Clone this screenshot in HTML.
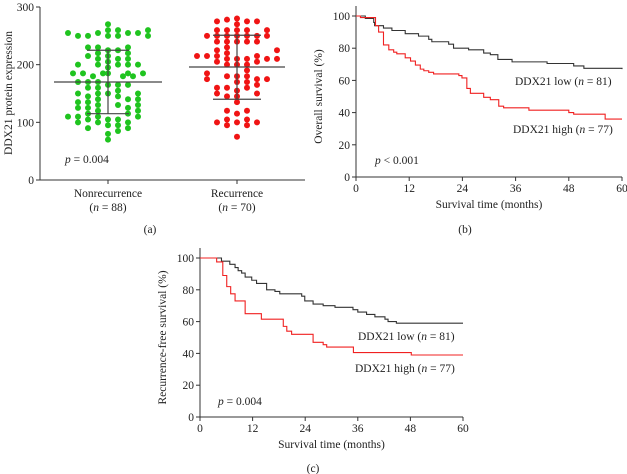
<!DOCTYPE html>
<html><head><meta charset="utf-8"><style>
body{margin:0;background:#fff}
svg{display:block;font-family:"Liberation Serif",serif;font-size:11.5px;fill:#222}
</style></head><body>
<svg id="fig" width="627" height="474" viewBox="0 0 627 474"></svg>
<script>
// Panel a data: [column offset, value]
const greenPts=[[-4,255],[-4,110],[-3.5,185],[-3,250],[-3,200],[-3,170],[-3,150],[-3,135],[-3,125],[-3,110],[-3,100],[-2.5,185],
[-2,250],[-2,230],[-2,215],[-2,170],[-2,160],[-2,145],[-2,135],[-2,125],[-2,115],[-2,105],[-2,90],[-1.5,180],
[-1,255],[-1,230],[-1,220],[-1,210],[-1,200],[-0.5,185],[-1,170],[-1,160],[-1,150],[-1,140],[-1,130],[-1,120],[-1,110],[-1,100],
[0,270],[0,260],[0,250],[0,225],[0,215],[0,205],[0,195],[0,185],[0,165],[0,150],[0,105],[0,95],[0,80],[0,70],[1.5,180],
[1,260],[1,250],[1,225],[1,210],[1,200],[1,165],[1,155],[1,145],[1,130],[1,105],[1,95],[1,85],[2.5,180],
[2,255],[2,230],[2,220],[2,210],[2,200],[2,185],[2,165],[2,140],[2,125],[2,115],[2,100],[2,90],[3.5,185],
[3,255],[3,200],[3,150],[3,140],[3,130],[3,120],[3,110],[4,260],[4,250]];
const redPts=[[-4,215],[-3,250],[-3,215],[-3,185],[-3,175],
[-2,275],[-2,260],[-2,250],[-2,240],[-2,225],[-2,215],[-2,205],[-2,160],[-2,150],[-2,100],
[-1,278],[-1,260],[-1,250],[-1,240],[-1,230],[-1,220],[-1,210],[-1,200],[-1,180],[-1,160],[-1,145],[-1,120],[-1,105],[-1,95],
[0,280],[0,270],[0,260],[0,250],[0,240],[0,210],[0,200],[0,180],[0,170],[0,155],[0,145],[0,135],[0,115],[0,100],[0,75],
[1,275],[1,260],[1,250],[1,240],[1,210],[1,200],[1,190],[1,180],[1,170],[1,160],[1,120],[1,105],[1,95],
[2,275],[2,250],[2,240],[2,215],[2,205],[2,175],[2,165],[2,150],[2,100],[3,260],[3,250],[3,210],[3,175],[4,225],[4,210]];
const groupStats=[{mean:170,hi:225,lo:115},{mean:196,hi:251,lo:140}];
const aTicks=[0,100,200,300];
// Panel b data
const bLowT=[0,2.1,4,4.2,6.2,8.1,11.1,14.1,16.4,17.1,20.9,22,25.4,28.8,30.3,32,35.2,43.1,49.1,51.4,60];
const bLowS=[100,98.5,96,94,92.5,91,89,87.5,85.5,84,82.5,80,79,77,76,73,71.5,70.5,69,67.5,67];
const bHighT=[0,1,4.4,5.1,6.2,7.4,8.5,9.2,11.1,12.3,13.4,14.5,15.3,16.4,17.5,23.2,23.9,25,25.8,28.8,30.3,32.2,33.3,39,48,49.1,56.2,60];
const bHighS=[100,99,94,90,82,79,77.5,76.5,74,72,69.5,67,66,65,64,63,61.5,55,52,49.5,48,44,43,41.5,40,39,36,36];
// Panel c data
const cLowT=[0,4.9,6.8,8,8.7,9.5,10.3,11.8,12.9,15.2,17.1,18.2,23.2,23.9,25.8,28.1,30.8,34.9,36,38,39.9,42.2,42.9,44.8,60];
const cLowS=[100,98,96,94,92,90.5,88,86,84,80,79,77.5,76,73,71,70,69,67.5,66,64.5,63,61.5,60,59,59];
const cHighT=[0,3.8,5.2,6.1,7,8,10.3,14,19,19.8,20.9,25.8,28.1,28.9,35,48.2,60];
const cHighS=[100,97.5,89,82,77.5,73,65,61.5,57,54,52,47,45.5,44,40.5,39,39];
const kmTicksX=[0,12,24,36,48,60];
const kmTicksY=[0,20,40,60,80,100];

const NS='http://www.w3.org/2000/svg';
const svg=document.getElementById('fig');
function el(tag,attrs,parent,text){const e=document.createElementNS(NS,tag);for(const k in attrs)e.setAttribute(k,attrs[k]);if(text!==undefined)e.textContent=text;(parent||svg).appendChild(e);return e;}

// ---------- Panel a ----------
const ga=el('g',{});


const ax0=40,ax1=305,ay0=180,ay1=7;
const ya=v=>ay0+(ay1-ay0)*v/300;
const centers=[108,237];
el('line',{x1:ax0,y1:ay1,x2:ax0,y2:ay0,stroke:'#333','stroke-width':1},ga);
el('line',{x1:ax0,y1:ay0,x2:ax1,y2:ay0,stroke:'#333','stroke-width':1},ga);
aTicks.forEach(t=>{el('line',{x1:ax0-4,x2:ax0,y1:ya(t),y2:ya(t),stroke:'#333'},ga);
 const tx=el('text',{x:ax0-6,y:ya(t)+4,'text-anchor':'end'},ga,String(t));
 });
centers.forEach(c=>el('line',{x1:c,x2:c,y1:ay0,y2:ay0+4,stroke:'#333'},ga));
function drawPts(pts,c,color,name){pts.forEach(p=>{const d=el('circle',{cx:c+p[0]*10,cy:ya(p[1]),r:3,fill:color},ga);
 });}
drawPts(greenPts,centers[0],'#1fc41f','nonrecurrence-point');
drawPts(redPts,centers[1],'#f01414','recurrence-point');
const meanHalf=[54,48],capHalf=[21,24];
groupStats.forEach((s,i)=>{const c=centers[i];
 el('line',{x1:c-meanHalf[i],x2:c+meanHalf[i],y1:ya(s.mean),y2:ya(s.mean),stroke:'#444','stroke-width':1.2},ga);
 el('line',{x1:c,x2:c,y1:ya(s.hi),y2:ya(s.lo),stroke:'#444','stroke-width':1.2},ga);
 el('line',{x1:c-capHalf[i],x2:c+capHalf[i],y1:ya(s.hi),y2:ya(s.hi),stroke:'#444','stroke-width':1.2},ga);
 el('line',{x1:c-capHalf[i],x2:c+capHalf[i],y1:ya(s.lo),y2:ya(s.lo),stroke:'#444','stroke-width':1.2},ga);});
let t=el('text',{x:65,y:163},ga);t.innerHTML='<tspan font-style="italic">p</tspan> = 0.004';

t=el('text',{x:108,y:197,'text-anchor':'middle'},ga,'Nonrecurrence');
t=el('text',{x:108,y:211,'text-anchor':'middle'},ga);t.innerHTML='(<tspan font-style="italic">n</tspan> = 88)';
t=el('text',{x:237,y:197,'text-anchor':'middle'},ga,'Recurrence');
t=el('text',{x:237,y:211,'text-anchor':'middle'},ga);t.innerHTML='(<tspan font-style="italic">n</tspan> = 70)';
t=el('text',{x:0,y:0,'text-anchor':'middle',transform:'translate(12,93) rotate(-90)'},ga,'DDX21 protein expression');

t=el('text',{x:150,y:233,'text-anchor':'middle'},ga,'(a)');

// ---------- KM panel ----------
function km(o){
 const g=el('g',{});
 
 
 const X=v=>o.x0+(o.x1-o.x0)*v/60, Y=v=>o.y0+(o.y1-o.y0)*v/100;
 el('line',{x1:o.x0,y1:o.y1-10,x2:o.x0,y2:o.y0,stroke:'#333'},g);
 el('line',{x1:o.x0,y1:o.y0,x2:o.x1,y2:o.y0,stroke:'#333'},g);
 kmTicksY.forEach(v=>{el('line',{x1:o.x0-4,x2:o.x0,y1:Y(v),y2:Y(v),stroke:'#333'},g);
  const tx=el('text',{x:o.x0-6,y:Y(v)+4,'text-anchor':'end'},g,String(v));});
 kmTicksX.forEach(v=>{el('line',{x1:X(v),x2:X(v),y1:o.y0,y2:o.y0+4,stroke:'#333'},g);
  const tx=el('text',{x:X(v),y:o.y0+15,'text-anchor':'middle'},g,String(v));});
 function step(T,S,color,name){let d='M'+X(T[0])+','+Y(S[0]);
  for(let i=1;i<T.length;i++){d+='H'+X(T[i])+'V'+Y(S[i]);}
  const p=el('path',{d:d,fill:'none',stroke:color,'stroke-width':1.1},g);
  }
 step(o.lowT,o.lowS,'#333','low-expression-curve');
 step(o.highT,o.highS,'#f02020','high-expression-curve');
 let t=el('text',{x:o.lowLab[0],y:o.lowLab[1]},g);t.innerHTML='DDX21 low (<tspan font-style="italic">n</tspan> = 81)';
 
 t=el('text',{x:o.highLab[0],y:o.highLab[1]},g);t.innerHTML='DDX21 high (<tspan font-style="italic">n</tspan> = 77)';
 
 t=el('text',{x:o.pLab[0],y:o.pLab[1]},g);t.innerHTML='<tspan font-style="italic">p</tspan> '+o.pText;
 
 t=el('text',{x:(o.x0+o.x1)/2,y:o.y0+31,'text-anchor':'middle'},g,'Survival time (months)');
 
 t=el('text',{x:0,y:0,'text-anchor':'middle',transform:'translate('+(o.x0-34)+','+((o.y0+o.y1)/2)+') rotate(-90)'},g,o.ytitle);
 
 t=el('text',{x:o.panel[0],y:o.panel[1],'text-anchor':'middle'},g,o.panelText);
 
}
km({name:'panel-b-overall-survival',x0:356,x1:622,y0:177,y1:16,lowT:bLowT,lowS:bLowS,highT:bHighT,highS:bHighS,
 lowLab:[515,85],highLab:[513,133],pLab:[375,164],pText:'< 0.001',ytitle:'Overall survival (%)',panel:[465,233],panelText:'(b)'});
km({name:'panel-c-recurrence-free-survival',x0:200,x1:463,y0:417,y1:258,lowT:cLowT,lowS:cLowS,highT:cHighT,highS:cHighS,
 lowLab:[358,340],highLab:[355,372],pLab:[218,405],pText:'= 0.004',ytitle:'Recurrence-free survival (%)',panel:[313,472],panelText:'(c)'});
</script>
</body></html>
